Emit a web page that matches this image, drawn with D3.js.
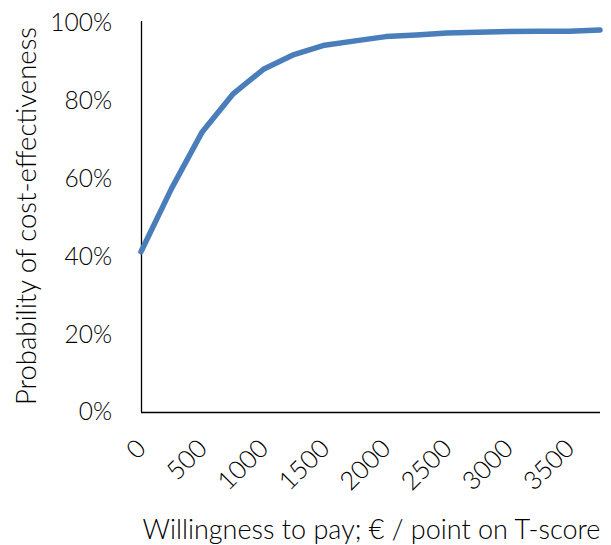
<!DOCTYPE html>
<html>
<head>
<meta charset="utf-8">
<script src="https://cdn.jsdelivr.net/npm/d3@7"></script>
<style>
  html, body { margin: 0; padding: 0; background: #fff; }
  svg { display: block; }
  text { font-family: Lato, "Open Sans", sans-serif; font-weight: 300; fill: #000; }
</style>
</head>
<body>
<svg id="chart" width="611" height="545"></svg>
<script>
const wtp = [0, 250, 500, 750, 1000, 1250, 1500, 1750, 2000, 2250, 2500, 2750, 3000, 3250, 3500, 3750];
const probability = [0.412, 0.575, 0.72, 0.817, 0.881, 0.919, 0.943, 0.954, 0.965, 0.969, 0.974, 0.976, 0.978, 0.979, 0.979, 0.982];
const xTickValues = [0, 500, 1000, 1500, 2000, 2500, 3000, 3500];
const yTickValues = [0, 0.2, 0.4, 0.6, 0.8, 1.0];
const xTitle = "Willingness to pay; € / point on T-score";
const yTitle = "Probability of cost-effectiveness";

const svg = d3.select("#chart");
const plotLeft = 141, plotRight = 600, plotTop = 23, plotBottom = 412;

const x = d3.scaleLinear().domain([0, 3750]).range([plotLeft, plotRight]);
const y = d3.scaleLinear().domain([0, 1]).range([plotBottom, plotTop]);

// Y axis
const yAxis = svg.append("g")
  .attr("transform", `translate(${plotLeft},0)`)
  .call(d3.axisLeft(y).tickValues(yTickValues).tickFormat(d3.format(".0%")).tickSize(0).tickPadding(29));
yAxis.select(".domain").attr("stroke", "#000").attr("stroke-width", 1.3).attr("d", `M0.5,${plotTop - 2}V${plotBottom}`);
yAxis.selectAll("text").style("font-size", "24.5px").style("font-family", "Lato, sans-serif").style("font-weight", 300).attr("fill", "#000");

// X axis
const xAxis = svg.append("g")
  .attr("transform", `translate(0,${plotBottom})`)
  .call(d3.axisBottom(x).tickValues(xTickValues).tickFormat(d3.format("d")).tickSize(0));
xAxis.select(".domain").attr("stroke", "#000").attr("stroke-width", 1.3).attr("d", `M${plotLeft},0.5H${plotRight}`);
xAxis.selectAll("text")
  .style("font-size", "25.5px").style("font-family", "Lato, sans-serif").style("font-weight", 300).attr("fill", "#000")
  .attr("text-anchor", "end")
  .attr("dy", null)
  .attr("y", 0)
  .attr("transform", "translate(6,38) rotate(-45)");

// Line
const line = d3.line().x((d, i) => x(wtp[i])).y(d => y(d));
svg.append("path")
  .datum(probability)
  .attr("fill", "none")
  .attr("stroke", "#4a7ebb")
  .attr("stroke-width", 5.5)
  .attr("stroke-linejoin", "round")
  .attr("stroke-linecap", "round")
  .attr("d", line);

// Titles
svg.append("text")
  .attr("x", (plotLeft + plotRight) / 2 + 1)
  .attr("y", 539)
  .attr("text-anchor", "middle")
  .style("font-size", "27px")
  .text(xTitle);

svg.append("text")
  .attr("transform", "translate(36,216) rotate(-90)")
  .attr("text-anchor", "middle")
  .style("font-size", "27.5px")
  .text(yTitle);
</script>
</body>
</html>
